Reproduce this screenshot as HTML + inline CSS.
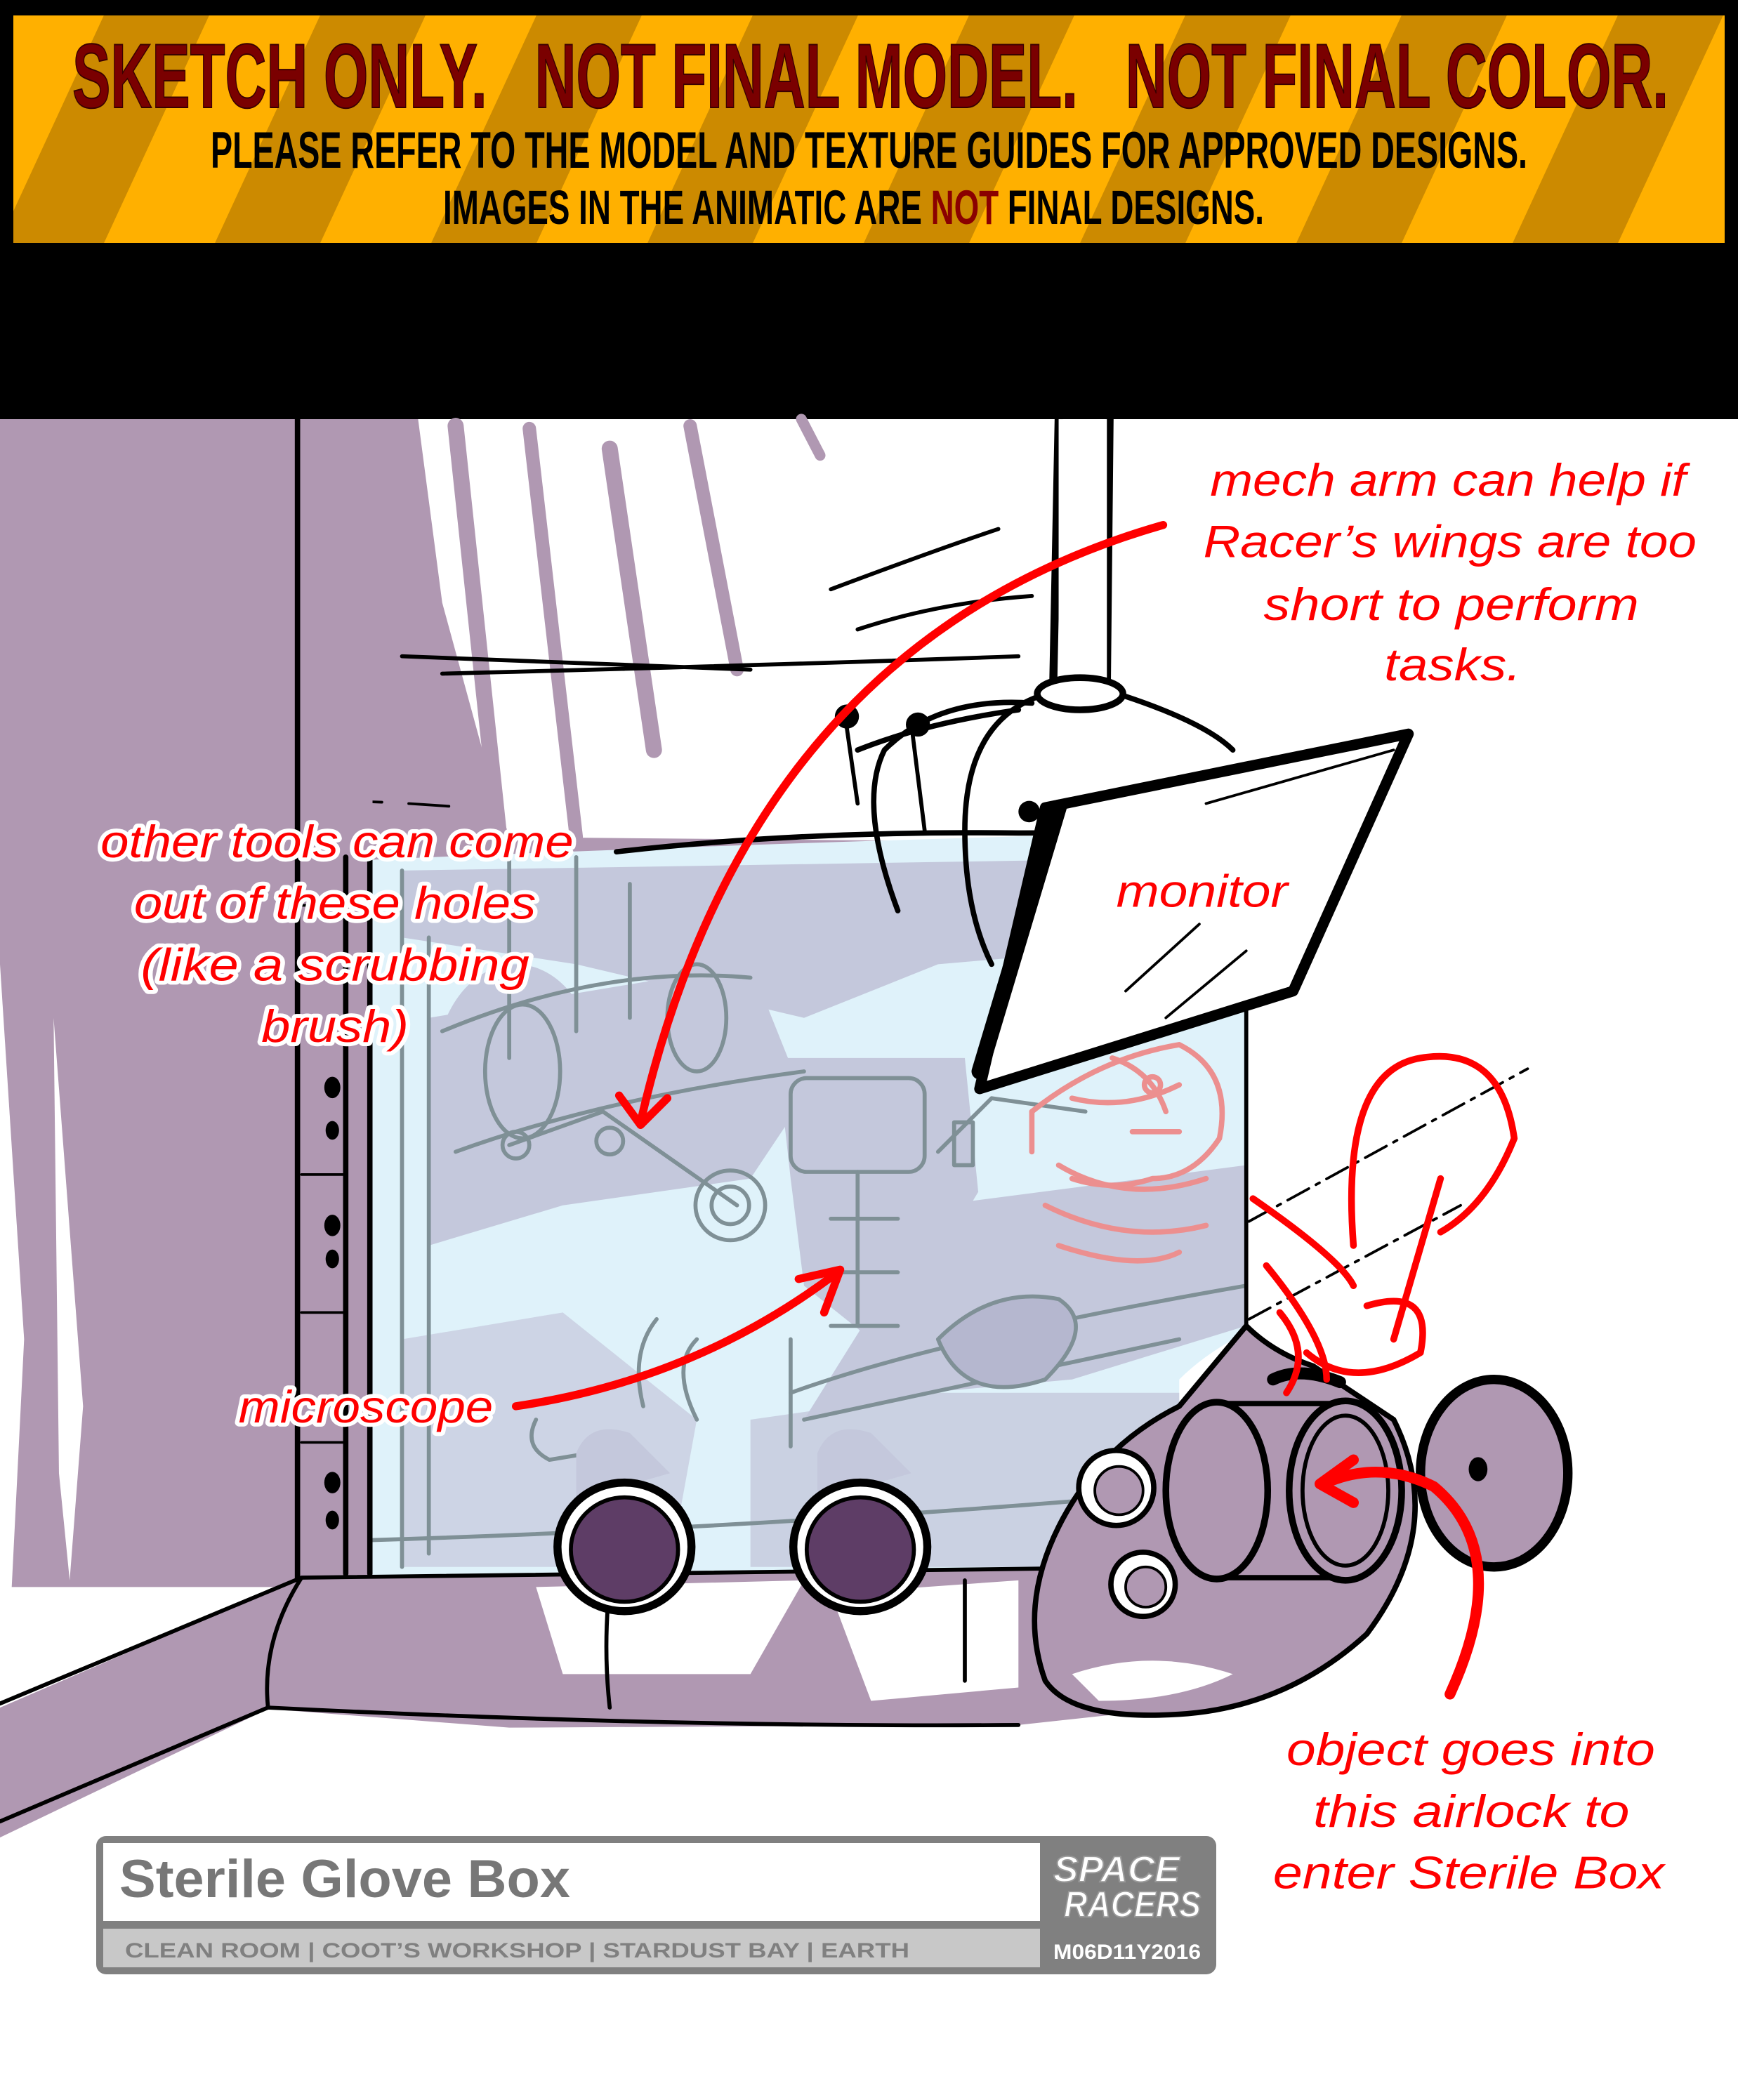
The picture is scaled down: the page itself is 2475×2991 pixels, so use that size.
<!DOCTYPE html>
<html><head><meta charset="utf-8"><style>
html,body{margin:0;padding:0;background:#fff;}
svg{display:block;}
text{white-space:pre;}
</style></head><body>
<svg width="2475" height="2991" viewBox="0 0 2475 2991" xmlns="http://www.w3.org/2000/svg" xml:space="preserve">
<defs>
<pattern id="stripes" patternUnits="userSpaceOnUse" width="308" height="324" patternTransform="skewX(-24.8)">
<rect x="0" y="0" width="158" height="324" fill="#ffb000"/>
<rect x="158" y="0" width="150" height="324" fill="#cc8a00"/>
</pattern>
</defs>
<rect x="0" y="0" width="2475" height="597" fill="#000"/>
<rect x="19" y="22" width="2437" height="324" fill="url(#stripes)"/>
<text x="103" y="153" font-family="Liberation Sans, sans-serif" font-weight="bold" font-size="130" fill="#7a0000" stroke="#3a0000" stroke-width="2" textLength="2273" lengthAdjust="spacingAndGlyphs">SKETCH ONLY.&#160;&#160;&#160;NOT FINAL MODEL.&#160;&#160;&#160;NOT FINAL COLOR.</text>
<text x="300" y="239" font-family="Liberation Sans, sans-serif" font-weight="bold" font-size="73" fill="#000" textLength="1875" lengthAdjust="spacingAndGlyphs">PLEASE REFER TO THE MODEL AND TEXTURE GUIDES FOR APPROVED DESIGNS.</text>
<text x="631" y="319" font-family="Liberation Sans, sans-serif" font-weight="bold" font-size="69" fill="#000" textLength="1169" lengthAdjust="spacingAndGlyphs">IMAGES IN THE ANIMATIC ARE <tspan fill="#8a0000">NOT</tspan> FINAL DESIGNS.</text>

<g transform="scale(1.9083,1.9075)" stroke-linecap="round" stroke-linejoin="round">
<path d="M0,313 H312 L330,450 L360,560 L380,625 L700,628 L700,650 H280 V1185 H0 Z" fill="#b098b2"/>
<path d="M0,720 L18,1000 L8,1200 L0,1230 Z" fill="#fff"/>
<path d="M40,760 L62,1050 L52,1180 L44,1100 Z" fill="#fff"/>
<g stroke="#b098b2" fill="none">
<path d="M340,318 L372,620" stroke-width="12"/>
<path d="M395,320 L430,625" stroke-width="10"/>
<path d="M455,335 L488,560" stroke-width="12"/>
<path d="M515,318 L550,500" stroke-width="10"/>
<path d="M598,313 L612,340" stroke-width="8"/>
</g>
<path d="M300,490 Q420,495 560,500 M330,503 Q600,496 760,490" stroke="#000" stroke-width="3" fill="none"/>
<path d="M258,598 L285,599 M305,600 L335,602" stroke="#000" stroke-width="2" fill="none"/>
<path d="M276,642 Q600,628 930,620 L930,995 Q900,1010 880,1030 L880,1170 Q600,1175 276,1180 Z" fill="#dff2fa"/>
<g fill="#c4c8dc">
<path d="M300,650 L930,640 L930,700 L700,720 L600,760 L430,720 L300,700 Z"/>
<path d="M320,760 L560,720 L600,820 L560,880 L420,900 L320,930 Z"/>
<path d="M580,790 L720,790 L730,890 L700,940 L650,1000 L600,960 L590,880 Z"/>
<path d="M700,900 L930,870 L930,990 L800,1030 L690,1040 L600,1060 Z"/>
<path d="M300,1000 L420,980 L520,1060 L500,1170 L300,1170 Z" opacity="0.7"/>
<path d="M560,1060 L700,1040 L880,1040 L880,1170 L560,1170 Z" opacity="0.8"/>
<ellipse cx="385" cy="800" rx="60" ry="80"/>
</g>
<path d="M460,636 Q600,620 760,622 Q850,622 930,612" stroke="#000" stroke-width="4" fill="none"/>
<g stroke="#7f9096" stroke-width="3" fill="none">
<path d="M300,650 V1170 M320,700 V1160 M380,640 V790 M430,640 V770 M470,660 V760"/>
<path d="M330,770 Q450,720 560,730 M340,860 Q450,820 600,800"/>
<ellipse cx="390" cy="800" rx="28" ry="50"/>
<ellipse cx="520" cy="760" rx="22" ry="40"/>
<path d="M450,830 L550,900 M380,855 L450,830"/>
<circle cx="545" cy="900" r="14"/><circle cx="545" cy="900" r="26"/>
<circle cx="385" cy="855" r="10"/><circle cx="455" cy="852" r="10"/>
<rect x="590" y="805" width="100" height="70" rx="12"/>
<path d="M640,875 V990 M620,910 H670 M620,950 H670 M620,990 H670"/>
<path d="M700,860 L740,820 L810,830"/>
<rect x="712" y="838" width="14" height="32"/>
<path d="M590,1040 Q700,1000 930,960 M276,1150 Q600,1140 930,1110 M880,1000 L600,1060"/>
<path d="M700,1000 Q740,960 790,970 Q820,990 780,1030 Q720,1050 700,1000 Z" fill="#b5b7cf"/>
<path d="M520,1000 Q500,1020 520,1060 M590,1000 V1080 M490,985 Q470,1010 480,1050"/>
<path d="M400,1060 Q390,1080 410,1090 L470,1080"/>
</g>
<g stroke="#ec8f8f" stroke-width="4" fill="none">
<path d="M770,830 Q820,790 880,780 Q920,800 910,850 Q890,880 860,880 Q830,890 800,880"/>
<path d="M800,820 Q840,830 880,810 M790,870 Q840,900 900,880 M780,900 Q840,930 900,915 M790,930 Q850,950 880,935"/>
<path d="M830,790 Q860,800 870,830 M845,845 L880,845 M770,830 L770,860"/>
<circle cx="860" cy="810" r="6"/>
</g>
<path d="M930,620 V1000" stroke="#000" stroke-width="3" fill="none"/>
<path d="M932,912 L1140,798" stroke="#000" stroke-width="2" stroke-dasharray="18 6 3 6" fill="none"/>
<path d="M932,985 L1090,900" stroke="#000" stroke-width="2" stroke-dasharray="18 6 3 6" fill="none"/>
<rect x="228" y="313" width="50" height="870" fill="#b098b2"/>
<path d="M222,313 V1180 M258,640 V1175 M276,640 V1175" stroke="#000" stroke-width="4" fill="none"/>
<g fill="#000">
<ellipse cx="248" cy="812" rx="6" ry="8"/><ellipse cx="248" cy="844" rx="5" ry="7"/>
<ellipse cx="248" cy="915" rx="6" ry="8"/><ellipse cx="248" cy="940" rx="5" ry="7"/>
<ellipse cx="248" cy="1107" rx="6" ry="8"/><ellipse cx="248" cy="1135" rx="5" ry="7"/>
</g>
<path d="M225,676 H258 M225,877 H258 M225,980 H258 M225,1077 H258" stroke="#000" stroke-width="2"/>
<path d="M225,1178 L880,1170 L1010,1180 L980,1250 L880,1275 L760,1288 L380,1290 L200,1276 L0,1372 L0,1275 Z" fill="#b098b2"/>
<path d="M400,1185 L600,1180 L560,1250 L420,1250 Z M620,1190 L760,1180 L760,1260 L650,1270 Z" fill="#fff"/>
<path d="M0,1272 L225,1178 L880,1170 M0,1360 L200,1275 Q500,1290 760,1288 M225,1178 Q195,1225 200,1275 M720,1180 V1255 M455,1183 Q450,1230 455,1275" stroke="#000" stroke-width="3" fill="none"/>
<path d="M930,990 Q950,1010 980,1020 L1040,1060 Q1080,1140 1020,1220 Q960,1275 880,1280 Q800,1285 780,1255 Q760,1200 790,1140 Q820,1080 880,1050 Z" fill="#b098b2" stroke="#000" stroke-width="4"/>
<path d="M800,1250 Q860,1230 920,1250 Q880,1270 820,1270 Z" fill="#fff"/>
<rect x="905" y="1048" width="100" height="130" fill="#b098b2"/>
<path d="M905,1048 L1004,1048 M905,1178 L1004,1178" stroke="#000" stroke-width="4"/>
<ellipse cx="908" cy="1113" rx="38" ry="66" fill="#b098b2" stroke="#000" stroke-width="5"/>
<ellipse cx="1004" cy="1113" rx="42" ry="67" fill="#b098b2" stroke="#000" stroke-width="5"/>
<ellipse cx="1004" cy="1113" rx="32" ry="56" fill="none" stroke="#000" stroke-width="3"/>
<path d="M950,1030 Q970,1020 1000,1032" stroke="#000" stroke-width="9" fill="none"/>
<ellipse cx="1115" cy="1100" rx="55" ry="70" fill="#b098b2" stroke="#000" stroke-width="7"/>
<ellipse cx="1103" cy="1097" rx="7" ry="9" fill="#000"/>
<circle cx="833" cy="1111" r="28" fill="#fff" stroke="#000" stroke-width="4"/>
<circle cx="835" cy="1113" r="18" fill="#b098b2" stroke="#000" stroke-width="2"/>
<circle cx="853" cy="1183" r="24" fill="#fff" stroke="#000" stroke-width="4"/>
<circle cx="855" cy="1185" r="15" fill="#b098b2" stroke="#000" stroke-width="2"/>
<g stroke="#000">
<path d="M430,1085 Q440,1060 470,1070 L500,1100 L430,1120 Z" fill="#c4c8dc" stroke="none"/>
<path d="M610,1085 Q620,1060 650,1070 L680,1100 L610,1120 Z" fill="#c4c8dc" stroke="none"/>
<ellipse cx="466" cy="1155" rx="50" ry="48" fill="#fff" stroke-width="6"/>
<ellipse cx="466" cy="1157" rx="40" ry="39" fill="#5e3d66" stroke-width="3"/>
<ellipse cx="642" cy="1155" rx="50" ry="48" fill="#fff" stroke-width="6"/>
<ellipse cx="642" cy="1157" rx="40" ry="39" fill="#5e3d66" stroke-width="3"/>
</g>
<path d="M790,313 L786,510 M828,313 L826,510" stroke="#000" stroke-width="6" fill="none"/>
<rect x="790" y="313" width="36" height="195" fill="#fff"/>
<ellipse cx="806" cy="518" rx="32" ry="12" fill="#fff" stroke="#000" stroke-width="5"/>
<path d="M775,520 Q720,540 720,620 Q720,680 740,720 M840,520 Q900,540 920,560 M770,525 Q700,520 660,560 Q640,600 670,680 M760,530 Q690,540 640,560" stroke="#000" stroke-width="4" fill="none"/>
<path d="M630,530 L640,600 M680,540 L690,620 M620,440 Q700,410 745,395 M640,470 Q700,450 770,445" stroke="#000" stroke-width="3" fill="none"/>
<circle cx="632" cy="535" r="9" fill="#000"/><circle cx="685" cy="541" r="9" fill="#000"/>
<circle cx="768" cy="606" r="8" fill="#000"/>
<path d="M780,603 L1051,548 L965,740 L731,813 Z" fill="#fff" stroke="#000" stroke-width="8"/>
<path d="M790,603 L731,800" stroke="#000" stroke-width="12"/>
<path d="M840,740 L895,690 M870,760 L930,710 M900,600 L1040,560" stroke="#000" stroke-width="2"/>
<g stroke="#ff0000" fill="none" stroke-width="5">
<path d="M1010,930 Q1000,800 1060,790 Q1120,780 1130,850 Q1110,900 1075,920"/>
<path d="M1075,880 L1040,1000 M1020,975 Q1070,960 1060,1010 Q1010,1040 975,1010"/>
<path d="M935,895 Q1000,940 1010,960 M945,945 Q990,1000 990,1030 M955,980 Q980,1010 960,1040"/>
</g>
<g stroke="#ff0000" fill="none" stroke-width="6">
<path d="M868,392 Q560,480 478,838"/>
<path d="M462,818 L478,840 L498,820"/>
<path d="M385,1050 Q520,1030 625,950"/>
<path d="M596,955 L627,948 L615,980"/>
<path d="M1082,1265 Q1130,1160 1070,1110 Q1030,1090 990,1107" stroke-width="8"/>
<path d="M1010,1090 L985,1108 L1010,1122" stroke-width="8"/>
</g>
<g font-family="Liberation Sans, sans-serif" font-style="italic" font-size="34" fill="#ff0000">
<text x="903" y="370" textLength="355" lengthAdjust="spacingAndGlyphs">mech arm can help if</text>
<text x="898" y="416" textLength="368" lengthAdjust="spacingAndGlyphs">Racer’s wings are too</text>
<text x="943" y="463" textLength="280" lengthAdjust="spacingAndGlyphs">short to perform</text>
<text x="1033" y="508" textLength="102" lengthAdjust="spacingAndGlyphs">tasks.</text>
<text x="833" y="677" textLength="128" lengthAdjust="spacingAndGlyphs">monitor</text>
<text x="960" y="1318" textLength="275" lengthAdjust="spacingAndGlyphs">object goes into</text>
<text x="980" y="1364" textLength="236" lengthAdjust="spacingAndGlyphs">this airlock to</text>
<text x="950" y="1410" textLength="292" lengthAdjust="spacingAndGlyphs">enter Sterile Box</text>
</g>
<g font-family="Liberation Sans, sans-serif" font-style="italic" font-size="34" fill="#ff0000" stroke="#fff" stroke-width="6" paint-order="stroke">
<text x="75" y="640" textLength="353" lengthAdjust="spacingAndGlyphs">other tools can come</text>
<text x="100" y="686" textLength="300" lengthAdjust="spacingAndGlyphs">out of these holes</text>
<text x="105" y="732" textLength="290" lengthAdjust="spacingAndGlyphs">(like a scrubbing</text>
<text x="195" y="778" textLength="110" lengthAdjust="spacingAndGlyphs">brush)</text>
<text x="178" y="1062" textLength="190" lengthAdjust="spacingAndGlyphs">microscope</text>
</g>
</g>

<rect x="137" y="2615" width="1595" height="197" rx="14" fill="#808080"/>
<rect x="147" y="2625" width="1334" height="111" fill="#fff"/>
<rect x="147" y="2747" width="1334" height="55" fill="#c8c8c8"/>
<text x="170" y="2702" font-family="Liberation Sans, sans-serif" font-weight="bold" font-size="76" fill="#777" textLength="642" lengthAdjust="spacingAndGlyphs">Sterile Glove Box</text>
<text x="178" y="2788" font-family="Liberation Sans, sans-serif" font-weight="bold" font-size="30" fill="#808080" textLength="1117" lengthAdjust="spacingAndGlyphs">CLEAN ROOM | COOT’S WORKSHOP | STARDUST BAY | EARTH</text>
<text x="1500" y="2680" font-family="Liberation Sans, sans-serif" font-weight="bold" font-style="italic" font-size="52" fill="#fff" stroke="#999" stroke-width="2" textLength="180" lengthAdjust="spacingAndGlyphs">SPACE</text>
<text x="1515" y="2730" font-family="Liberation Sans, sans-serif" font-weight="bold" font-style="italic" font-size="52" fill="#fff" stroke="#999" stroke-width="2" textLength="195" lengthAdjust="spacingAndGlyphs">RACERS</text>
<text x="1500" y="2790" font-family="Liberation Sans, sans-serif" font-weight="bold" font-size="30" fill="#fff" textLength="210" lengthAdjust="spacingAndGlyphs">M06D11Y2016</text>
</svg>
</body></html>
